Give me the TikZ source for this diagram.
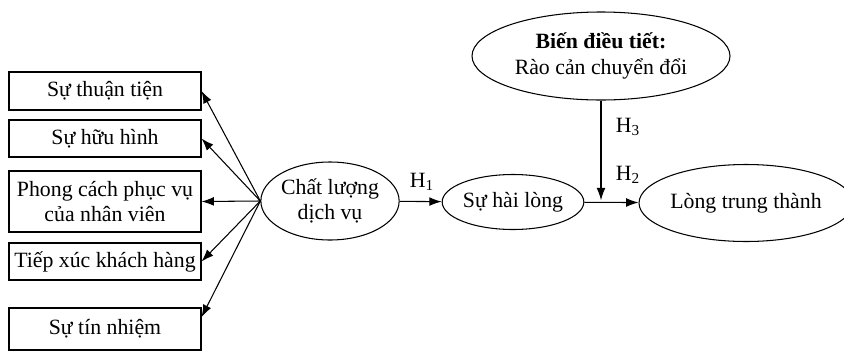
\documentclass[tikz,border=0pt]{standalone}
\usepackage{fontspec}
\setmainfont{Liberation Serif}
\usetikzlibrary{shapes.geometric,arrows.meta}

\begin{document}
\begin{tikzpicture}[
    >={Latex[length=7pt,width=5pt]},
    every path/.style={line width=0.6pt},
    factor/.style={rectangle, draw, minimum width=3.84cm, minimum height=0.76cm,
                   align=center, inner sep=1pt, font=\fontsize{12.4}{14.5}\selectfont},
    latent/.style={ellipse, draw, inner sep=0pt, align=center,
                   font=\fontsize{12.4}{14.5}\selectfont},
    hyp/.style={font=\fontsize{12.4}{14.5}\selectfont}
]
    \useasboundingbox (0,0) rectangle (16.88,7.06);

    \node[factor] (f1) at (2.10, 5.24) {Sự thuận tiện};
    \node[factor, minimum height=0.74cm] (f2) at (2.10, 4.29) {Sự hữu hình};
    \node[factor, minimum height=1.22cm] (f3) at (2.10, 3.03) {Phong cách phục vụ\\của nhân viên};
    \node[factor, minimum height=0.74cm] (f4) at (2.10, 1.83) {Tiếp xúc khách hàng};
    \node[factor, minimum height=0.84cm] (f5) at (2.10, 0.48) {Sự tín nhiệm};

    \node[latent, minimum width=2.60cm, minimum height=1.56cm] (clv) at (6.60, 3.04) {Chất lượng\\dịch vụ};
    \node[latent, minimum width=2.80cm, minimum height=1.10cm] (shl) at (10.26, 3.02) {Sự hài lòng};
    \node[latent, minimum width=3.86cm, minimum height=1.54cm] (ltt) at (14.92, 3.00) {Lòng trung thành};
    \node[latent, minimum width=5.16cm, minimum height=1.76cm] (bdt) at (12.02, 5.94)
        {\textbf{Biến điều tiết:}\\Rào cản chuyển đổi};

    \draw[->] (clv.west) -- (f1.east);
    \draw[->] (clv.west) -- (f2.east);
    \draw[->] (clv.west) -- (f3.east);
    \draw[->] (clv.west) -- (f4.east);
    \draw[->] (clv.west) -- (f5.7);

    \node[hyp] (h1) at (8.44, 3.42) {H\textsubscript{1}};
    \draw[->] (clv) -- (shl);

    \coordinate (mod) at (bdt.south |- shl.east);
    \draw[->] (shl) -- (ltt);
    \draw[->] (bdt) -- ([yshift=1pt]mod);
    \node[hyp] (h3) at (12.56, 4.52) {H\textsubscript{3}};
    \node[hyp] (h2) at (12.56, 3.56) {H\textsubscript{2}};
\end{tikzpicture}
\end{document}
